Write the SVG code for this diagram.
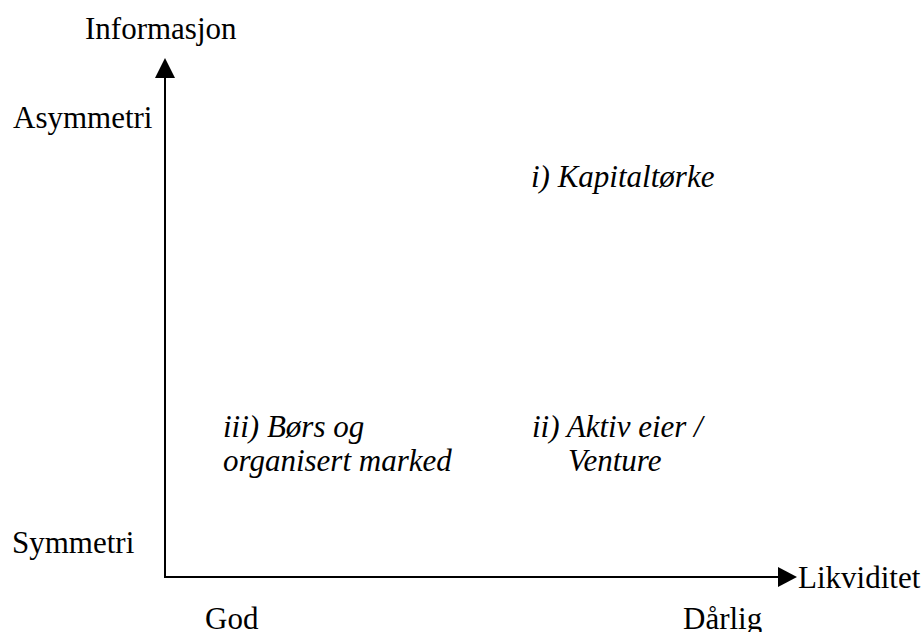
<svg xmlns="http://www.w3.org/2000/svg" width="923" height="632" viewBox="0 0 923 632">
<style>
  text { font-family: "Liberation Serif", "Times New Roman", serif; font-size: 31px; fill: #000; }
  .it { font-style: italic; }
  .axis { stroke: #000; stroke-width: 2; fill: none; }
  .head { fill: #000; stroke: none; }
</style>
<rect width="923" height="632" fill="#fff"/>
<g id="connectors">
  <line class="axis" x1="165" y1="578" x2="165" y2="76"/>
  <polygon class="head" points="165,58 155,78 175,78"/>
  <line class="axis" x1="164" y1="577" x2="780" y2="577"/>
  <polygon class="head" points="797,577 778,567 778,587"/>
</g>
<g id="y-axis-label"><text x="85" y="39">Informasjon</text></g>
<g id="asymmetri"><text x="13" y="128">Asymmetri</text></g>
<g id="symmetri"><text x="12" y="553">Symmetri</text></g>
<g id="x-axis-label"><text x="798" y="588">Likviditet</text></g>
<g id="god"><text x="205" y="629">God</text></g>
<g id="darlig"><text x="683" y="629">Dårlig</text></g>
<g id="kapitaltorke"><text class="it" x="531" y="187">i) Kapitaltørke</text></g>
<g id="bors"><text class="it" x="223" y="437">iii) Børs og</text><text class="it" x="223" y="471">organisert marked</text></g>
<g id="aktiv-eier"><text class="it" x="532" y="437">ii) Aktiv eier /</text><text class="it" x="568" y="471">Venture</text></g>
</svg>
